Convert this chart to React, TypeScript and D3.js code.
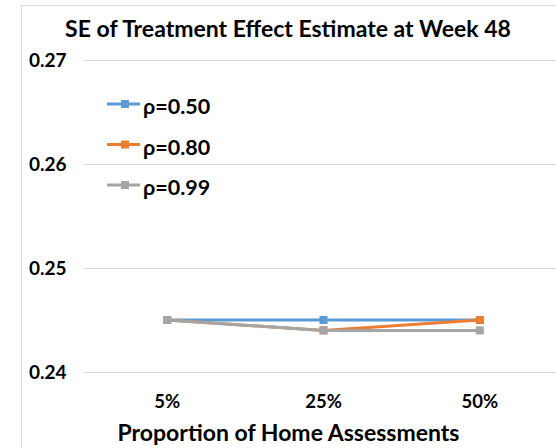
import React from "react";
import * as d3 from "d3";

const categories = ["5%", "25%", "50%"];
const seriesNames = ["ρ=0.50", "ρ=0.80", "ρ=0.99"];
const rho050 = [0.245, 0.245, 0.245];
const rho080 = [0.245, 0.244, 0.245];
const rho099 = [0.245, 0.244, 0.244];
const yTicks = [0.24, 0.25, 0.26, 0.27];
const colors = ["#5B9BD5", "#ED7D31", "#A5A5A5"];

const W = 556;
const H = 448;
const FONT = "Lato, 'Open Sans', sans-serif";

export default function App() {
  const x = d3.scaleBand<string>().domain(categories).range([89, 558]);
  const y = d3.scaleLinear().domain([0.24, 0.27]).range([372, 60]);
  const line = d3
    .line<number>()
    .x((_, i) => (x(categories[i]) as number) + x.bandwidth() / 2)
    .y((d) => y(d));
  const series = [rho050, rho080, rho099];
  return (
    <svg width={W} height={H} style={{ position: "absolute", left: 0, top: 0, background: "#fff" }} fontFamily={FONT}>
      <rect x={21.5} y={5.5} width={W} height={H} fill="#fff" stroke="#D9D9D9" strokeWidth={1} />
      <text x={288} y={37} textAnchor="middle" fontSize={23} fontWeight="bold" fill="#000">
        SE of Treatment Effect Estimate at Week 48
      </text>
      {yTicks.map((t) => (
        <g key={t}>
          <line x1={83} x2={W} y1={Math.round(y(t)) + 0.5} y2={Math.round(y(t)) + 0.5} stroke="#D9D9D9" strokeWidth={1} />
          <text x={29} y={y(t) + 7} fontSize={19} fontWeight="bold" fill="#000">
            {d3.format(".2f")(t)}
          </text>
        </g>
      ))}
      {categories.map((c) => (
        <text key={c} x={(x(c) as number) + x.bandwidth() / 2} y={408} textAnchor="middle" fontSize={18.5} fontWeight="bold" fill="#000">
          {c}
        </text>
      ))}
      <text x={288.5} y={441} textAnchor="middle" fontSize={23} fontWeight="bold" fill="#000">
        Proportion of Home Assessments
      </text>
      {series.map((s, si) => (
        <g key={si}>
          <path d={line(s) as string} fill="none" stroke={colors[si]} strokeWidth={3} />
          {s.map((v, i) => (
            <rect
              key={i}
              x={(x(categories[i]) as number) + x.bandwidth() / 2 - 4}
              y={y(v) - 4}
              width={8}
              height={8}
              fill={colors[si]}
            />
          ))}
        </g>
      ))}
      {seriesNames.map((n, i) => {
        const ly = 104 + i * 40.5;
        return (
          <g key={n}>
            <line x1={107} x2={140} y1={ly} y2={ly} stroke={colors[i]} strokeWidth={3} />
            <rect x={121} y={ly - 4} width={8} height={8} fill={colors[i]} />
            <text x={143} y={ly + 10} fontSize={21.5} fontWeight="bold" fill="#000">
              {n}
            </text>
          </g>
        );
      })}
    </svg>
  );
}
